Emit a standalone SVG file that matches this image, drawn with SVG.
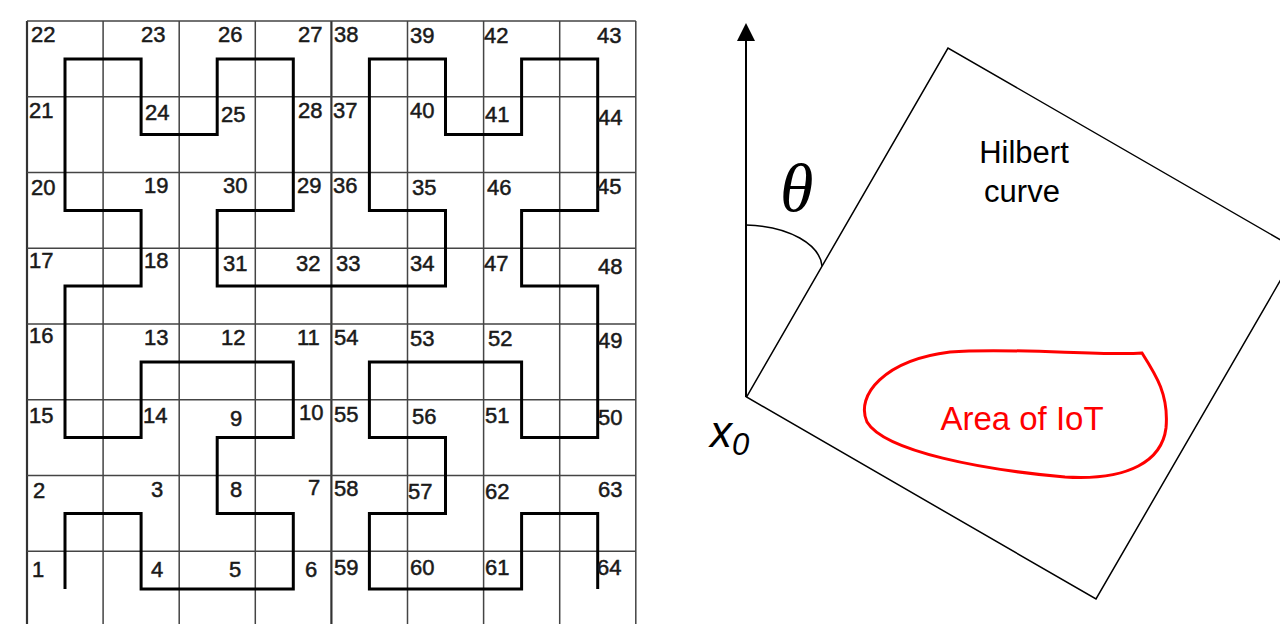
<svg xmlns="http://www.w3.org/2000/svg" width="1280" height="624" viewBox="0 0 1280 624">
<defs>
<style>
.grid{stroke:#444;stroke-width:1.5;fill:none}
.gridc{stroke:#333;stroke-width:2.2;fill:none}
.num{font-family:"Liberation Sans",Arial,sans-serif;font-size:22px;fill:#1a1a1a;stroke:#1a1a1a;stroke-width:0.5}
.curve{stroke:#000;stroke-width:3;fill:none;stroke-linejoin:miter;stroke-linecap:butt}
.thin{stroke:#000;stroke-width:1.5;fill:none}
.lbl{font-family:"Liberation Sans",Arial,sans-serif;fill:#000}
</style>
</defs>
<rect width="1280" height="624" fill="#fff"/>

<g id="grid">
<path class="grid" d="M27,21V624 M103.1,21V624 M179.2,21V624 M255.3,21V624 M407.5,21V624 M483.6,21V624 M559.7,21V624 M635.8,21V624"/>
<path class="gridc" d="M331.4,21V624 M27,21V624"/>
<path class="grid" d="M27,21H635.8 M27,96.75H635.8 M27,172.5H635.8 M27,248.25H635.8 M27,324H635.8 M27,399.75H635.8 M27,475.5H635.8 M27,551.25H635.8"/>
</g>

<g id="hilbert-curve">
<polyline class="curve" points="65,589.1 65,513.4 141.1,513.4 141.1,589.1 217.2,589.1 293.3,589.1 293.3,513.4 217.2,513.4 217.2,437.6 293.3,437.6 293.3,361.9 217.2,361.9 141.1,361.9 141.1,437.6 65,437.6 65,361.9 65,286.1 141.1,286.1 141.1,210.4 65,210.4 65,134.6 65,58.9 141.1,58.9 141.1,134.6 217.2,134.6 217.2,58.9 293.3,58.9 293.3,134.6 293.3,210.4 217.2,210.4 217.2,286.1 293.3,286.1 369.4,286.1 445.5,286.1 445.5,210.4 369.4,210.4 369.4,134.6 369.4,58.9 445.5,58.9 445.5,134.6 521.6,134.6 521.6,58.9 597.7,58.9 597.7,134.6 597.7,210.4 521.6,210.4 521.6,286.1 597.7,286.1 597.7,361.9 597.7,437.6 521.6,437.6 521.6,361.9 445.5,361.9 369.4,361.9 369.4,437.6 445.5,437.6 445.5,513.4 369.4,513.4 369.4,589.1 445.5,589.1 521.6,589.1 521.6,513.4 597.7,513.4 597.7,589.1"/>
</g>

<g id="cell-numbers" class="num">
<text x="31" y="42">22</text><text x="141" y="42">23</text><text x="218" y="42">26</text><text x="298" y="42">27</text><text x="334" y="42">38</text><text x="410" y="43">39</text><text x="484" y="43">42</text><text x="597" y="43">43</text>
<text x="29" y="118">21</text><text x="145" y="120">24</text><text x="221" y="122">25</text><text x="298" y="118">28</text><text x="333" y="118">37</text><text x="410" y="118">40</text><text x="485" y="122">41</text><text x="598" y="125">44</text>
<text x="31" y="195">20</text><text x="144" y="193">19</text><text x="223" y="193">30</text><text x="297" y="193">29</text><text x="333" y="193">36</text><text x="412" y="195">35</text><text x="487" y="195">46</text><text x="597" y="194">45</text>
<text x="29" y="268">17</text><text x="144" y="268">18</text><text x="223" y="271">31</text><text x="296" y="271">32</text><text x="336" y="271">33</text><text x="410" y="271">34</text><text x="484" y="271">47</text><text x="598" y="274">48</text>
<text x="29" y="343">16</text><text x="144" y="345">13</text><text x="221" y="345">12</text><text x="297" y="345">11</text><text x="334" y="345">54</text><text x="410" y="346">53</text><text x="488" y="346">52</text><text x="598" y="348">49</text>
<text x="29" y="423">15</text><text x="143" y="423">14</text><text x="230" y="426">9</text><text x="299" y="420">10</text><text x="334" y="422">55</text><text x="412" y="424">56</text><text x="485" y="423">51</text><text x="598" y="425">50</text>
<text x="33" y="498">2</text><text x="151" y="497">3</text><text x="230" y="497">8</text><text x="308" y="495">7</text><text x="334" y="496">58</text><text x="408" y="499">57</text><text x="485" y="499">62</text><text x="598" y="497">63</text>
<text x="32" y="577">1</text><text x="151" y="577">4</text><text x="229" y="577">5</text><text x="305" y="577">6</text><text x="334" y="575">59</text><text x="410" y="575">60</text><text x="485" y="575">61</text><text x="597" y="575">64</text>
</g>

<g id="axis">
<line x1="746" y1="397" x2="746" y2="38" stroke="#000" stroke-width="2"/>
<polygon points="746,23 737,41 755,41" fill="#000"/>
</g>

<g id="rotated-square">
<polygon class="thin" points="746.5,397 948,48 1298,250 1096,599"/>
</g>

<g id="angle">
<path class="thin" d="M746,225 C790,226 820,245 822,266"/>
<text x="780" y="211" font-family="'Liberation Serif','Times New Roman',serif" font-style="italic" font-size="68" fill="#000">θ</text>
</g>

<g id="origin-label">
<text x="710" y="447" class="lbl" font-style="italic" font-size="44">x<tspan font-size="31" dy="8">0</tspan></text>
</g>

<g id="hilbert-label">
<text x="1024" y="163" class="lbl" font-size="31" text-anchor="middle">Hilbert</text>
<text x="1022" y="202" class="lbl" font-size="31" text-anchor="middle">curve</text>
</g>

<g id="iot-area">
<path d="M1142,353 C1100,356 1010,347 950,352 C885,360 855,395 867,422 C885,452 985,470 1065,477 C1130,481 1162,460 1166,428 C1169,395 1156,375 1142,353 Z" fill="none" stroke="#ff0000" stroke-width="3"/>
<text x="1022" y="430" font-family="'Liberation Sans',Arial,sans-serif" font-size="33" fill="#ff0000" text-anchor="middle">Area of IoT</text>
</g>
</svg>
